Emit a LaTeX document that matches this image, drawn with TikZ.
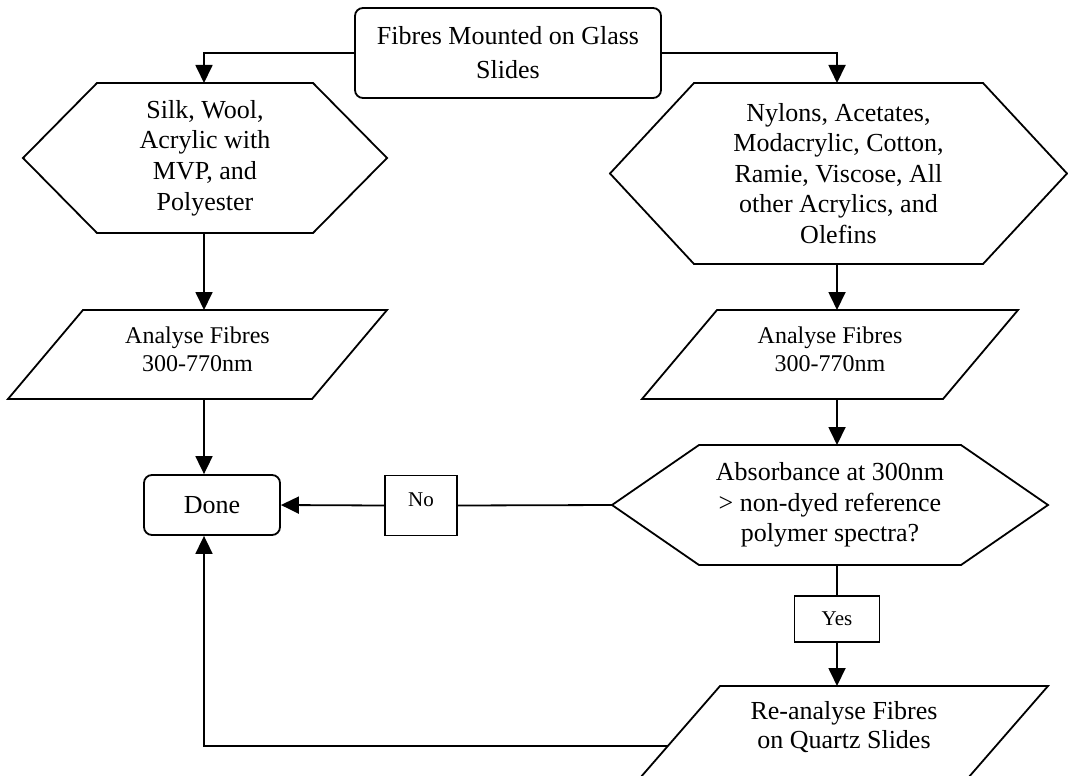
\documentclass[tikz,border=0pt]{standalone}
\usepackage{fontspec}
\setmainfont{Liberation Serif}
\usetikzlibrary{arrows.meta,calc}

\begin{document}
\begin{tikzpicture}[x=0.5pt,y=-0.5pt,line width=0.9pt,
	box/.style={draw,rounded corners=4pt,align=center,font=\fontsize{13}{17}\selectfont},
	hexa/.style={inner sep=0,outer sep=0,align=center,font=\fontsize{13}{15.3}\selectfont},
	para/.style={inner sep=0,outer sep=0,align=center,text depth=5pt},
	tag/.style={draw,inner sep=0,font=\fontsize{10.5}{12}\selectfont},
	arr/.style={-{Triangle[width=8.5pt,length=9pt]}}]
	\useasboundingbox (0,0) rectangle (1068,775);
	\coordinate (colL) at (204,0);
	\coordinate (colR) at (837,0);
	% start
	\node[box,minimum width=153pt,minimum height=45pt] (glass) at (508,53) {Fibres Mounted on Glass\\Slides};
	% fibre groups
	\node[hexa,minimum width=182pt,minimum height=75pt] (silk) at (205,158) {Silk, Wool,\\Acrylic with\\MVP, and\\Polyester};
	\node[hexa,minimum width=228.5pt,minimum height=90.5pt] (nylon) at (838.5,173.5) {Nylons, Acetates,\\Modacrylic, Cotton,\\Ramie, Viscose, All\\other Acrylics, and\\Olefins};
	\draw (silk.west) -- ([xshift=37pt]silk.north west) -- ([xshift=-37pt]silk.north east) -- (silk.east) -- ([xshift=-37pt]silk.south east) -- ([xshift=37pt]silk.south west) -- cycle;
	\draw (nylon.west) -- ([xshift=42pt]nylon.north west) -- ([xshift=-42pt]nylon.north east) -- (nylon.east) -- ([xshift=-42pt]nylon.south east) -- ([xshift=42pt]nylon.south west) -- cycle;
	% analysis
	\node[para,font=\fontsize{12}{14}\selectfont,minimum width=189.5pt,minimum height=44.5pt] (anaL) at (197.5,354.5) {Analyse Fibres\\300-770nm};
	\node[para,font=\fontsize{12}{14}\selectfont,minimum width=188pt,minimum height=44.5pt] (anaR) at (830,354.5) {Analyse Fibres\\300-770nm};
	\draw (anaL.south west) -- ([xshift=37.5pt]anaL.north west) -- (anaL.north east) -- ([xshift=-37.5pt]anaL.south east) -- cycle;
	\draw (anaR.south west) -- ([xshift=37.5pt]anaR.north west) -- (anaR.north east) -- ([xshift=-37.5pt]anaR.south east) -- cycle;
	\node[box,minimum width=68pt,minimum height=30pt] (done) at (212,505) {Done};
	\node[hexa,minimum width=218pt,minimum height=60pt] (absorb) at (830,505) {Absorbance at 300nm\\> non-dyed reference\\polymer spectra?};
	\draw (absorb.west) -- ([xshift=43.5pt]absorb.north west) -- ([xshift=-43.5pt]absorb.north east) -- (absorb.east) -- ([xshift=-43.5pt]absorb.south east) -- ([xshift=43.5pt]absorb.south west) -- cycle;
	\node[tag,text depth=5.5pt,minimum width=36pt,minimum height=30pt] (no) at (421,505.5) {No};
	\node[tag,minimum width=42.5pt,minimum height=23pt] (yes) at (837,619) {Yes};
	\node[para,text depth=7pt,font=\fontsize{13}{14.5}\selectfont,minimum width=204pt,minimum height=46pt] (reana) at (844,732) {Re-analyse Fibres\\on Quartz Slides};
	\draw (reana.south west) -- ([xshift=40pt]reana.north west) -- (reana.north east) -- ([xshift=-40pt]reana.south east) -- cycle;
	\coordinate (back) at ($(reana.south west)!0.35!([xshift=40pt]reana.north west)$);
	% connectors
	\draw[arr] (glass.west) -| (colL |- silk.north);
	\draw[arr] (glass.east) -| (colR |- nylon.north);
	\draw[arr] (colL |- silk.south) -- (colL |- anaL.north);
	\draw[arr] (colL |- anaL.south) -- (colL |- done.north);
	\draw[arr] (colR |- nylon.south) -- (colR |- anaR.north);
	\draw[arr] (colR |- anaR.south) -- (colR |- absorb.north);
	\draw (absorb.west) -- (no.east);
	\draw[arr] (no.west) -- (done.east);
	\draw (colR |- absorb.south) -- (yes.north);
	\draw[arr] (yes.south) -- (colR |- reana.north);
	\draw[arr] (back) -| (colL |- done.south);
\end{tikzpicture}
\end{document}
